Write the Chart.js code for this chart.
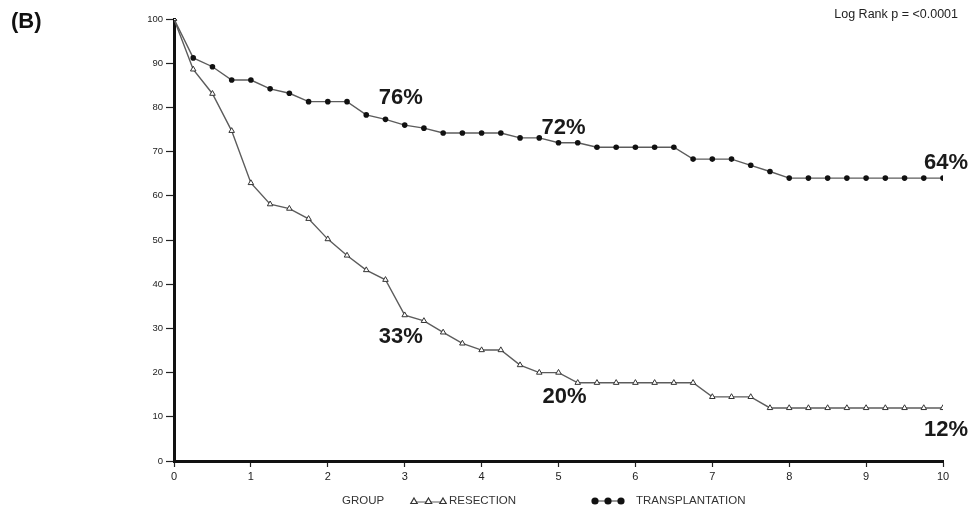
<!DOCTYPE html>
<html>
<head>
<meta charset="utf-8">
<script src="https://cdn.jsdelivr.net/npm/chart.js@4/dist/chart.umd.min.js"></script>
<style>
  html, body { margin: 0; padding: 0; background: #fff; }
  #wrap { position: relative; width: 970px; height: 510px; }
</style>
</head>
<body>
<div id="wrap"><canvas id="km"></canvas></div>
<script>
// Follow-up time in years (quarterly steps)
const years = [0, 0.25, 0.5, 0.75, 1, 1.25, 1.5, 1.75, 2, 2.25, 2.5, 2.75, 3, 3.25, 3.5, 3.75,
  4, 4.25, 4.5, 4.75, 5, 5.25, 5.5, 5.75, 6, 6.25, 6.5, 6.75, 7, 7.25, 7.5, 7.75,
  8, 8.25, 8.5, 8.75, 9, 9.25, 9.5, 9.75, 10];

// Survival (%) by group
const resection = [100, 88.6, 83.1, 74.7, 62.9, 58.1, 57.1, 54.8, 50.2, 46.5, 43.2, 41, 33, 31.7, 29.1, 26.6,
  25.1, 25.1, 21.7, 20, 20, 17.7, 17.7, 17.7, 17.7, 17.7, 17.7, 17.7, 14.5, 14.5, 14.5, 12,
  12, 12, 12, 12, 12, 12, 12, 12, 12];
const transplantation = [100, 91.2, 89.2, 86.2, 86.2, 84.2, 83.2, 81.3, 81.3, 81.3, 78.3, 77.3, 76, 75.3, 74.2, 74.2,
  74.2, 74.2, 73.1, 73.1, 72, 72, 71, 71, 71, 71, 71, 68.3, 68.3, 68.3, 66.9, 65.5,
  64, 64, 64, 64, 64, 64, 64, 64, 64];

// Years at which survival rates are printed on the curves
const markedYears = [3, 5, 10];

const groupNames = ['RESECTION', 'TRANSPLANTATION'];
const panelTag = '(B)';
const testNote = 'Log Rank p = <0.0001';
const legendTitle = 'GROUP';

const yTicks = [0, 10, 20, 30, 40, 50, 60, 70, 80, 90, 100];
const xTicks = [0, 1, 2, 3, 4, 5, 6, 7, 8, 9, 10];

const FONT = "'Liberation Sans', Arial, Helvetica, sans-serif";

function toPoints(vals) {
  return years.map((t, i) => ({ x: t, y: vals[i] }));
}

// Text placed next to the curves: survival at selected years, plus panel labels and legend
const extras = {
  id: 'extras',
  afterDraw(chart) {
    const { ctx, scales } = chart;
    const xs = scales.x, ys = scales.y;
    ctx.save();

    // panel tag and test result
    ctx.fillStyle = '#111';
    ctx.font = 'bold 22px ' + FONT;
    ctx.textAlign = 'left';
    ctx.textBaseline = 'middle';
    ctx.fillText(panelTag, 11, 22);
    ctx.font = '12.5px ' + FONT;
    ctx.fillStyle = '#222';
    ctx.textAlign = 'right';
    ctx.fillText(testNote, 958, 15);

    // survival percentages at the marked years
    ctx.font = 'bold 22px ' + FONT;
    ctx.fillStyle = '#1a1a1a';
    ctx.textAlign = 'center';
    const upper = [[-4, -27], [5, -15], [3, -15]];
    const lower = [[-4, 22], [6, 24], [3, 22]];
    markedYears.forEach((t, k) => {
      const i = years.indexOf(t);
      const vt = transplantation[i];
      const vr = resection[i];
      ctx.fillText(Math.round(vt) + '%', xs.getPixelForValue(t) + upper[k][0], ys.getPixelForValue(vt) + upper[k][1]);
      ctx.fillText(Math.round(vr) + '%', xs.getPixelForValue(t) + lower[k][0], ys.getPixelForValue(vr) + lower[k][1]);
    });

    // legend row
    const ly = 501;
    ctx.font = '11.5px ' + FONT;
    ctx.fillStyle = '#333';
    ctx.textAlign = 'left';
    ctx.fillText(legendTitle, 342, ly);

    const dsR = chart.data.datasets[0];
    const dsT = chart.data.datasets[1];
    // resection sample: line with three open triangles
    ctx.strokeStyle = dsR.borderColor;
    ctx.lineWidth = 1.2;
    ctx.beginPath(); ctx.moveTo(412, ly + 1); ctx.lineTo(445, ly + 1); ctx.stroke();
    [414, 428.5, 443].forEach(px => {
      ctx.beginPath();
      ctx.moveTo(px, ly - 3);
      ctx.lineTo(px + 3.2, ly + 2.5);
      ctx.lineTo(px - 3.2, ly + 2.5);
      ctx.closePath();
      ctx.fillStyle = '#fff';
      ctx.fill();
      ctx.strokeStyle = dsR.pointBorderColor;
      ctx.stroke();
    });
    ctx.fillStyle = '#333';
    ctx.fillText(dsR.label, 449, ly);

    // transplantation sample: three filled dots
    ctx.strokeStyle = dsT.borderColor;
    ctx.beginPath(); ctx.moveTo(595, ly); ctx.lineTo(621, ly); ctx.stroke();
    [595, 608, 621].forEach(px => {
      ctx.beginPath();
      ctx.arc(px, ly, 3.6, 0, Math.PI * 2);
      ctx.fillStyle = dsT.pointBackgroundColor;
      ctx.fill();
    });
    ctx.fillStyle = '#333';
    ctx.fillText(dsT.label, 636, ly);

    ctx.restore();
  }
};

new Chart(document.getElementById('km'), {
  type: 'line',
  data: {
    datasets: [
      {
        label: groupNames[0],
        data: toPoints(resection),
        borderColor: '#5c5c5c',
        borderWidth: 1.4,
        pointStyle: 'triangle',
        pointRadius: 3.2,
        pointBackgroundColor: '#ffffff',
        pointBorderColor: '#333333',
        pointBorderWidth: 1,
        tension: 0
      },
      {
        label: groupNames[1],
        data: toPoints(transplantation),
        borderColor: '#5c5c5c',
        borderWidth: 1.4,
        pointStyle: 'circle',
        pointRadius: 2.8,
        pointBackgroundColor: '#111111',
        pointBorderColor: '#111111',
        pointBorderWidth: 0,
        tension: 0
      }
    ]
  },
  options: {
    responsive: true,
    maintainAspectRatio: false,
    animation: false,
    devicePixelRatio: 1,
    layout: { padding: { left: 0, right: 27, top: 19, bottom: 0 } },
    plugins: { legend: { display: false }, tooltip: { enabled: false } },
    scales: {
      x: {
        type: 'linear',
        min: 0, max: 10,
        afterFit(scale) { scale.height = 49; },
        afterBuildTicks(scale) { scale.ticks = xTicks.map(v => ({ value: v })); },
        border: { display: true, color: '#111', width: 3 },
        grid: { drawOnChartArea: false, drawTicks: true, tickLength: 6, tickColor: '#222', tickWidth: 1.2 },
        ticks: { color: '#222', font: { family: FONT, size: 11 }, padding: 3, maxRotation: 0 }
      },
      y: {
        type: 'linear',
        min: 0, max: 100,
        afterFit(scale) { scale.width = 174; },
        afterBuildTicks(scale) { scale.ticks = yTicks.map(v => ({ value: v })); },
        border: { display: true, color: '#111', width: 3 },
        grid: { drawOnChartArea: false, drawTicks: true, tickLength: 8, tickColor: '#222', tickWidth: 1.2 },
        ticks: { color: '#222', font: { family: FONT, size: 9.5 }, padding: 3 }
      }
    }
  },
  plugins: [extras]
});
</script>
</body>
</html>
